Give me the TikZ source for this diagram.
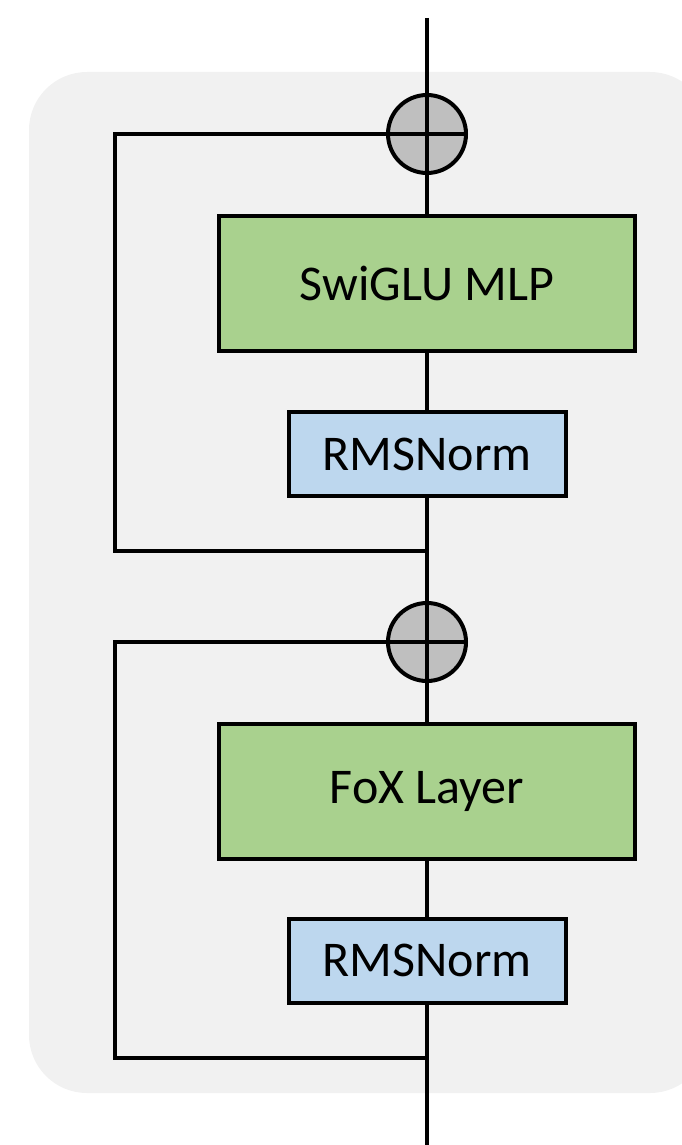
\documentclass[tikz,border=0pt]{standalone}
\usepackage{fontspec}
\setmainfont{Carlito}
\definecolor{panelbg}{HTML}{F1F1F1}
\definecolor{blockgreen}{HTML}{A9D18E}
\definecolor{normblue}{HTML}{BDD7EE}
\definecolor{addgray}{HTML}{BFBFBF}
\tikzset{
  wire/.style={line width=3.2pt, draw=black},
  block/.style={draw=black, line width=4pt, fill=blockgreen, minimum width=416pt,
    minimum height=135pt, inner sep=0pt, font=\fontsize{50}{60}\selectfont},
  normbox/.style={draw=black, line width=4pt, fill=normblue, minimum width=277pt,
    minimum height=84pt, inner sep=0pt, font=\fontsize{50}{60}\selectfont},
  adder/.style={circle, draw=black, line width=4pt, fill=addgray, minimum size=78pt,
    inner sep=0pt},
}
\begin{document}
\begin{tikzpicture}[x=1pt,y=-1pt]
\useasboundingbox (0,0) rectangle (682,1145);
\clip (0,0) rectangle (682,1145);
% shaded panel behind the block
\fill[panelbg, rounded corners=58pt] (29,72) rectangle (708,1093);

% nodes
\node[adder] (add1) at (427,134) {};
\node[block] (mlp) at (427,283.5) {SwiGLU MLP};
\node[normbox] (norm1) at (427,454) {RMSNorm};
\node[adder] (add2) at (427,642) {};
\node[block] (fox) at (427,791.5) {FoX Layer};
\node[normbox] (norm2) at (427,960.5) {RMSNorm};

\coordinate (top) at (427,18);
\coordinate (bottom) at (427,1145);
\coordinate (j1) at (427,551);
\coordinate (j2) at (427,1058);
\coordinate (c1) at (115,134);
\coordinate (c2) at (115,642);

% main path
\draw[wire] (top) -- (add1.north);
\draw[wire] (add1.south) -- (mlp.north);
\draw[wire] (mlp.south) -- (norm1.north);
\draw[wire] (norm1.south) -- (add2.north);
\draw[wire] (add2.south) -- (fox.north);
\draw[wire] (fox.south) -- (norm2.north);
\draw[wire] (norm2.south) -- (bottom);

% residual branches
\draw[wire, line join=miter] (j1) -| (c1) -- (add1.west);
\draw[wire, line join=miter] (j2) -| (c2) -- (add2.west);

% plus signs inside the adders
\draw[wire] (add1.north) -- (add1.south);
\draw[wire] (add1.west) -- (add1.east);
\draw[wire] (add2.north) -- (add2.south);
\draw[wire] (add2.west) -- (add2.east);
\end{tikzpicture}
\end{document}
